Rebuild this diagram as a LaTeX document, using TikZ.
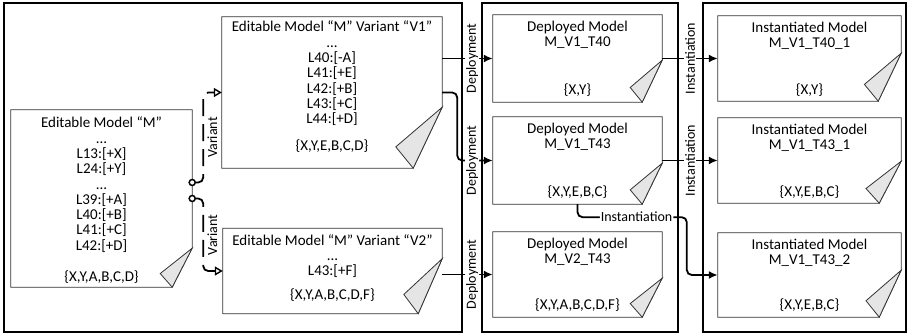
\documentclass[tikz,border=0pt]{standalone}
\usepackage{fontspec}
\setmainfont{Carlito}
\usetikzlibrary{positioning,arrows.meta}

% outline of a document node with a folded corner: node, fold height, fold width
\newcommand{\docshape}[3]{%
  \draw[docline] (#1.north west) -- (#1.north east) -- ([yshift=#2]#1.south east)
    -- ([xshift=-#3]#1.south east) -- (#1.south west) -- cycle;
  \filldraw[fold] ([yshift=#2]#1.south east) -- ([xshift={-1.6*#3},yshift={0.35*#2}]#1.south east)
    -- ([xshift=-#3]#1.south east) -- cycle;
}

\begin{document}
\begin{tikzpicture}
[x=1pt,y=-1pt,
 frame/.style={draw,line width=1.2pt},
 doc/.style={inner sep=0pt},
 docline/.style={line width=0.8pt,draw=black!80},
 fold/.style={line width=0.8pt,draw=black!80,fill=black!10},
 txt/.style={align=center,inner sep=0pt,font=\fontsize{15}{15.3}\selectfont},
 lbl/.style={font=\fontsize{14}{14}\selectfont,inner sep=1pt},
 flow/.style={line width=1.8pt,rounded corners=5pt,-{Latex[length=9pt,width=8pt]}},
 variant/.style={line width=1.8pt,rounded corners=5pt,dash pattern=on 17pt off 8pt,
   -{Triangle[open,length=8pt,width=9pt,line width=1.4pt]}}]
 \useasboundingbox (0,0) rectangle (909,336);

 % the three areas
 \draw[frame] (4,3) rectangle (462,332);
 \draw[frame] (482,3) rectangle (678,332);
 \draw[frame] (703,3) rectangle (906,332);

 % editable models
 \node[doc,minimum width=181pt,minimum height=177pt] (M) at (101.5,198.5) {};
 \node[doc,minimum width=220pt,minimum height=151pt] (V1) at (332,92.5) {};
 \node[doc,minimum width=219pt,minimum height=85pt] (V2) at (332.5,271) {};
 % deployed models
 \node[doc,minimum width=169pt,minimum height=87pt] (T40) at (577.5,58.5) {};
 \node[doc,minimum width=169pt,minimum height=87pt] (T43) at (577.5,160.5) {};
 \node[doc,minimum width=169pt,minimum height=85pt] (T2) at (577.5,274.5) {};
 % instantiated models
 \node[doc,minimum width=183pt,minimum height=85pt] (I40) at (809.5,58.5) {};
 \node[doc,minimum width=183pt,minimum height=85pt] (I43a) at (809.5,160.5) {};
 \node[doc,minimum width=183pt,minimum height=84pt] (I43b) at (809.5,275) {};

 \docshape{M}{39}{20}
 \docshape{V1}{61}{29}
 \docshape{V2}{55}{24}
 \docshape{T40}{42}{20}
 \docshape{T43}{41}{20}
 \docshape{T2}{39}{20}
 \docshape{I40}{48}{23}
 \docshape{I43a}{42}{22}
 \docshape{I43b}{47}{22}

 \node[txt,below=7pt of M.north] (Mtxt) {Editable Model “M”\\...\\L13:[+X]\\L24:[+Y]\\...\\L39:[+A]\\L40:[+B]\\L41:[+C]\\L42:[+D]};
 \node[txt,above=3pt of M.south] (Mset) {\{X,Y,A,B,C,D\}};
 \node[txt,below=4pt of V1.north] (V1txt) {Editable Model “M” Variant “V1”\\...\\L40:[-A]\\L41:[+E]\\L42:[+B]\\L43:[+C]\\L44:[+D]};
 \node[txt,above=15pt of V1.south] (V1set) {\{X,Y,E,B,C,D\}};
 \node[txt,below=6pt of V2.north] (V2txt) {Editable Model “M” Variant “V2"\\...\\L43:[+F]};
 \node[txt,above=12pt of V2.south] (V2set) {\{X,Y,A,B,C,D,F\}};

 \node[txt,below=6pt of T40.north] (T40txt) {Deployed Model\\M\_V1\_T40};
 \node[txt,above=5pt of T40.south] (T40set) {\{X,Y\}};
 \node[txt,below=6pt of T43.north] (T43txt) {Deployed Model\\M\_V1\_T43};
 \node[txt,above=5pt of T43.south] (T43set) {\{X,Y,E,B,C\}};
 \node[txt,below=6pt of T2.north] (T2txt) {Deployed Model\\M\_V2\_T43};
 \node[txt,above=5pt of T2.south] (T2set) {\{X,Y,A,B,C,D,F\}};

 \node[txt,below=6pt of I40.north] (I40txt) {Instantiated Model\\M\_V1\_T40\_1};
 \node[txt,above=4pt of I40.south] (I40set) {\{X,Y\}};
 \node[txt,below=6pt of I43a.north] (I43atxt) {Instantiated Model\\M\_V1\_T43\_1};
 \node[txt,above=4pt of I43a.south] (I43aset) {\{X,Y,E,B,C\}};
 \node[txt,below=6pt of I43b.north] (I43btxt) {Instantiated Model\\M\_V1\_T43\_2};
 \node[txt,above=5pt of I43b.south] (I43bset) {\{X,Y,E,B,C\}};

 % variants
 \coordinate (pv1) at ([yshift=16pt]M.east);
 \coordinate (pv2) at (M.east);
 \draw[variant] (pv1) -- ++(11,0) |- node[pos=0.25,lbl,rotate=90,anchor=north,inner sep=3.5pt] {Variant} (V1.west);
 \draw[variant] (pv2) -- ++(11,0) |- node[pos=0.25,lbl,rotate=90,anchor=north,inner sep=3.5pt] {Variant} (V2.west);
 \draw[line width=1.5pt,fill=white] (pv1) circle (3pt) (pv2) circle (3pt);

 % deployments
 \draw[flow] (V1.north east |- T40.west) -- node[pos=0.59,lbl,fill=white,rotate=90] {Deployment} (T40.west);
 \draw[flow] (V1.east) -- ++(15,0) |- node[pos=0.71,lbl,fill=white,rotate=90] {Deployment} (T43.west);
 \draw[flow] (V2.east |- T2.west) -- node[pos=0.59,lbl,fill=white,rotate=90] {Deployment} (T2.west);

 % instantiations
 \draw[flow] (T40.east) -- node[lbl,fill=white,rotate=90] {Instantiation} (I40.west);
 \draw[flow] (T43.east) -- node[lbl,fill=white,rotate=90] {Instantiation} (I43a.west);
 \draw[flow] (T43.south) -- ++(0,13) -| node[pos=0.27,lbl,fill=white] {Instantiation} ([xshift=-31pt]I43b.west) -- (I43b.west);
\end{tikzpicture}
\end{document}
